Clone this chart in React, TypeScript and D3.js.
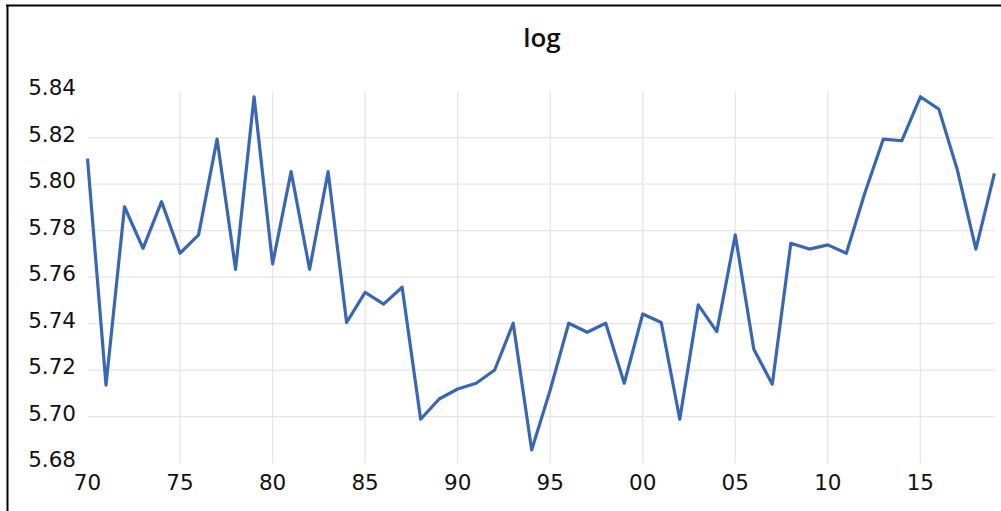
import React from "react";
import * as d3 from "d3";

const years: number[] = [
  1970, 1971, 1972, 1973, 1974, 1975, 1976, 1977, 1978, 1979,
  1980, 1981, 1982, 1983, 1984, 1985, 1986, 1987, 1988, 1989,
  1990, 1991, 1992, 1993, 1994, 1995, 1996, 1997, 1998, 1999,
  2000, 2001, 2002, 2003, 2004, 2005, 2006, 2007, 2008, 2009,
  2010, 2011, 2012, 2013, 2014, 2015, 2016, 2017, 2018, 2019,
];
const values: number[] = [
  5.811, 5.7136, 5.7903, 5.7724, 5.7925, 5.7703, 5.7782, 5.8194, 5.7634, 5.8376,
  5.7657, 5.8054, 5.7634, 5.8054, 5.7405, 5.7535, 5.7484, 5.7557, 5.6989, 5.7076,
  5.7119, 5.7144, 5.7201, 5.7402, 5.6857, 5.7115, 5.7402, 5.7363, 5.7402, 5.7144,
  5.7442, 5.7405, 5.6989, 5.7481, 5.7366, 5.7782, 5.729, 5.714, 5.7746, 5.7721,
  5.7739, 5.7703, 5.7962, 5.8194, 5.8187, 5.8376, 5.8323, 5.8061, 5.7721, 5.8047,
];
const xTickYears: number[] = [1970, 1975, 1980, 1985, 1990, 1995, 2000, 2005, 2010, 2015];
const xTickLabels: string[] = ["70", "75", "80", "85", "90", "95", "00", "05", "10", "15"];
const yTicks: number[] = [5.68, 5.7, 5.72, 5.74, 5.76, 5.78, 5.8, 5.82, 5.84];
const title = "log";

export default function App() {
  const W = 1001;
  const H = 511;
  const x = d3.scaleLinear().domain([1970, 2019]).range([87.5, 994.4]);
  const y = d3.scaleLinear().domain([5.68, 5.84]).range([463.2, 91.2]);
  const line = d3
    .line<number>()
    .x((_, i) => x(years[i]))
    .y((d) => y(d));
  const gridColor = "#e6e6e6";
  const tickFont = "'DejaVu Sans', Verdana, sans-serif";
  return (
    <svg
      width={W}
      height={H}
      style={{ position: "absolute", left: 0, top: 0, background: "#fff" }}
    >
      <rect x={0} y={0} width={W} height={H} fill="#fff" />
      {yTicks
        .filter((t) => t > 5.685 && t < 5.835)
        .map((t) => (
          <line
            key={"h" + t}
            x1={88}
            x2={995}
            y1={y(t)}
            y2={y(t)}
            stroke={gridColor}
            strokeWidth={1.3}
          />
        ))}
      {xTickYears
        .filter((t) => t > 1970)
        .map((t) => (
          <line
            key={"v" + t}
            x1={x(t)}
            x2={x(t)}
            y1={y(5.84)}
            y2={y(5.68)}
            stroke={gridColor}
            strokeWidth={1.3}
          />
        ))}
      <line x1={6} x2={W} y1={5.5} y2={5.5} stroke="#000" strokeWidth={2} />
      <line x1={7.5} x2={7.5} y1={5} y2={H} stroke="#000" strokeWidth={2} />
      <text
        x={542}
        y={47}
        textAnchor="middle"
        fontFamily="'Open Sans', sans-serif"
        fontWeight={600}
        fontSize={26}
        fill="#111"
      >
        {title}
      </text>
      {yTicks.map((t) => (
        <text
          key={"yl" + t}
          x={76}
          y={y(t) + 3.8}
          textAnchor="end"
          fontFamily={tickFont}
          fontSize={21.5}
          fill="#111"
        >
          {t.toFixed(2)}
        </text>
      ))}
      {xTickYears.map((t, i) => (
        <text
          key={"xl" + t}
          x={x(t)}
          y={490}
          textAnchor="middle"
          fontFamily={tickFont}
          fontSize={21.5}
          fill="#111"
        >
          {xTickLabels[i]}
        </text>
      ))}
      <path
        d={line(values) || ""}
        fill="none"
        stroke="#3a67b1"
        strokeWidth={3.2}
        strokeLinejoin="round"
      />
    </svg>
  );
}
